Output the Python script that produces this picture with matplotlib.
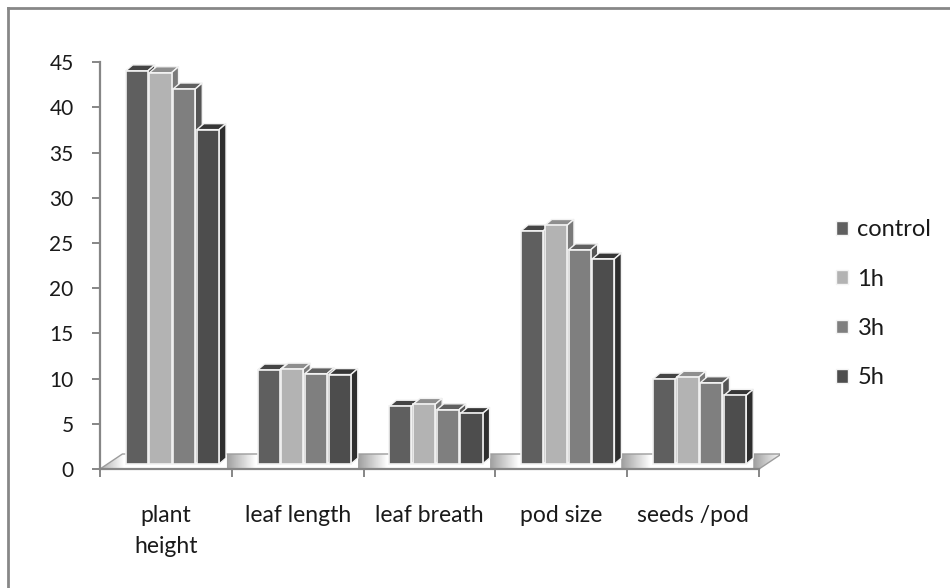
import numpy as np
import matplotlib
matplotlib.use("Agg")
import matplotlib.pyplot as plt
from matplotlib.patches import Polygon, Patch
from matplotlib.lines import Line2D

plt.rcParams["font.family"] = ["Lato", "DejaVu Sans"]

# Growth parameters measured for each treatment time
categories = ["plant\nheight", "leaf length", "leaf breath", "pod size", "seeds /pod"]
series_names = ["control", "1h", "3h", "5h"]
control = [43.5, 10.4, 6.4, 25.8, 9.4]
h1 = [43.3, 10.5, 6.6, 26.4, 9.6]
h3 = [41.5, 10.0, 6.0, 23.7, 9.0]
h5 = [37.0, 9.9, 5.6, 22.7, 7.6]
series = [control, h1, h3, h5]

# shades for front / top / side of each series
front_colors = ["#5f5f5f", "#b3b3b3", "#7f7f7f", "#4d4d4d"]
top_colors = ["#444444", "#8e8e8e", "#606060", "#363636"]
side_colors = ["#3c3c3c", "#7a7a7a", "#555555", "#2e2e2e"]

fig = plt.figure(figsize=(9.5, 5.88), dpi=100)
W, H = 950, 588
ax = fig.add_axes([100 / W, 119 / H, 680 / W, 406.7 / H])
ax.set_xlim(0, 680 / 131.8)
ax.set_ylim(0, 45)

# pseudo-3d geometry (data units)
base = 0.55
bar_w = 0.168
step = 0.18
first = 0.195
dx, dy = 0.053, 0.66

# floor slab
floor_dx, floor_dy = 0.17, 1.66
floor = Polygon([(0, 0), (5, 0), (5 + floor_dx, floor_dy), (floor_dx, floor_dy)],
                closed=True, facecolor="none", edgecolor="#9c9c9c", lw=1.0, zorder=1)
ax.add_patch(floor)
gx = np.linspace(0, 5 + floor_dx, 800)
t = np.clip(((gx + 0.04) % 1.0) / 0.22, 0, 1)
shade = 0.62 + 0.38 * t
grad = np.tile(shade, (20, 1))
img = ax.imshow(grad, extent=(0, 5 + floor_dx, 0, floor_dy), origin="lower",
                cmap="gray", vmin=0, vmax=1, aspect="auto", zorder=0.9)
img.set_clip_path(floor)

idx = np.arange(len(categories))
for k, vals in enumerate(series):
    lefts = idx + first + k * step
    ax.bar(lefts, vals, width=bar_w, bottom=base, align="edge",
           color=front_colors[k], edgecolor="#f2f2f2", linewidth=1.2,
           zorder=3 + 2 * k, clip_on=False)
    for x0, v in zip(lefts, vals):
        top = base + v
        ax.add_patch(Polygon([(x0, top), (x0 + bar_w, top),
                              (x0 + bar_w + dx, top + dy), (x0 + dx, top + dy)],
                             closed=True, facecolor=top_colors[k], edgecolor="#f2f2f2",
                             lw=1.0, zorder=2 + 2 * k, clip_on=False))
        ax.add_patch(Polygon([(x0 + bar_w, base), (x0 + bar_w + dx, base + dy),
                              (x0 + bar_w + dx, top + dy), (x0 + bar_w, top)],
                             closed=True, facecolor=side_colors[k], edgecolor="#f2f2f2",
                             lw=1.0, zorder=2 + 2 * k, clip_on=False))

# axes lines and ticks
axis_col = "#868686"
for s in ["top", "right"]:
    ax.spines[s].set_visible(False)
ax.spines["left"].set_bounds(0, 45)
ax.spines["bottom"].set_bounds(0, 5)
for s in ["left", "bottom"]:
    ax.spines[s].set_color(axis_col)
    ax.spines[s].set_linewidth(1.6)
    ax.spines[s].set_zorder(20)

ax.set_yticks(range(0, 46, 5))
ax.set_xticks(range(0, 6))
ax.set_xticklabels([])
ax.set_xticks(idx + 0.5, minor=True)
ax.set_xticklabels(categories, minor=True, fontsize=16.5, color="#1a1a1a", linespacing=1.6)
ax.tick_params(axis="y", length=6, width=1.4, color=axis_col, pad=13,
               labelsize=15, labelcolor="#1a1a1a")
ax.tick_params(axis="x", which="major", length=6, width=1.4, color=axis_col)
ax.tick_params(axis="x", which="minor", length=0, pad=26)

# legend
handles = [Patch(facecolor=c, edgecolor="#f4f4f4") for c in front_colors]
fig.legend(handles, series_names, loc="upper left", bbox_to_anchor=(815 / W, 1 - 198 / H),
           frameon=False, fontsize=17, handlelength=0.5, handleheight=0.5,
           handletextpad=0.4, labelspacing=1.2, labelcolor="#1a1a1a")

# chart border
fig.add_artist(Line2D([8 / W, 1], [1 - 8 / H, 1 - 8 / H], color="#878787", lw=2))
fig.add_artist(Line2D([8 / W, 8 / W], [0, 1 - 8 / H], color="#878787", lw=2))

fig.savefig("out.png", dpi=100)
